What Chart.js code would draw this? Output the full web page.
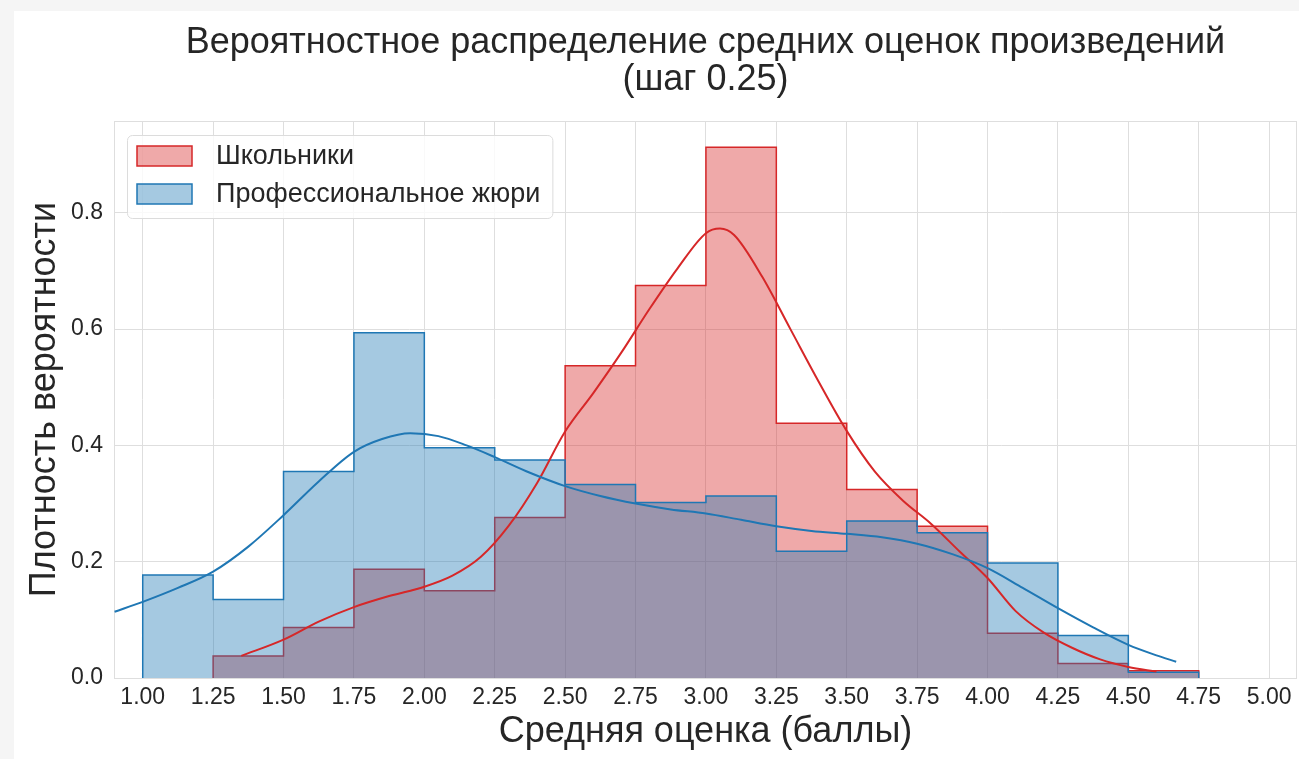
<!DOCTYPE html>
<html>
<head>
<meta charset="utf-8">
<script src="https://cdn.jsdelivr.net/npm/chart.js@4.4.0/dist/chart.umd.min.js"></script>
<style>
    html, body { margin: 0; padding: 0; }
    body { width: 1299px; height: 759px; overflow: hidden; background: #f5f5f5; position: relative; }
    #sheet { position: absolute; left: 14px; top: 11px; right: 0; bottom: 0; background: #ffffff; }
    #myChart { position: absolute; left: 0; top: 0; }
</style>
</head>
<body>
<div id="sheet"></div>
<canvas id="myChart" width="1299" height="759"></canvas>
<script>
// histogram bins (left edges), bin width 0.25
var binStarts = [1.00, 1.25, 1.50, 1.75, 2.00, 2.25, 2.50, 2.75, 3.00, 3.25, 3.50, 3.75, 4.00, 4.25, 4.50];
var binWidth = 0.25;
var schoolDensity = [null, 0.038, 0.087, 0.187, 0.150, 0.276, 0.537, 0.675, 0.913, 0.438, 0.324, 0.261, 0.077, 0.025, 0.0125];
var juryDensity = [0.177, 0.135, 0.355, 0.594, 0.396, 0.375, 0.333, 0.302, 0.313, 0.218, 0.270, 0.250, 0.198, 0.073, 0.010];

// kde curves
var schoolKdeX = [1.35, 1.50, 1.625, 1.75, 1.875, 2.00, 2.10, 2.20, 2.30, 2.40, 2.50, 2.60, 2.70, 2.80, 2.90, 3.00, 3.05, 3.10, 3.20, 3.30, 3.40, 3.50, 3.60, 3.70, 3.80, 3.90, 4.00, 4.10, 4.20, 4.30, 4.40, 4.50, 4.60];
var schoolKdeY = [0.038, 0.066, 0.097, 0.122, 0.141, 0.157, 0.176, 0.208, 0.262, 0.335, 0.424, 0.490, 0.560, 0.635, 0.705, 0.765, 0.773, 0.762, 0.690, 0.600, 0.510, 0.425, 0.355, 0.305, 0.265, 0.218, 0.172, 0.115, 0.078, 0.052, 0.032, 0.019, 0.011];
var juryKdeX = [0.90, 1.00, 1.125, 1.25, 1.375, 1.50, 1.625, 1.75, 1.85, 1.95, 2.05, 2.15, 2.25, 2.375, 2.50, 2.625, 2.75, 2.875, 3.00, 3.125, 3.25, 3.375, 3.50, 3.625, 3.75, 3.875, 4.00, 4.125, 4.25, 4.375, 4.50, 4.60, 4.67];
var juryKdeY = [0.114, 0.131, 0.155, 0.183, 0.226, 0.280, 0.338, 0.389, 0.411, 0.421, 0.416, 0.400, 0.380, 0.353, 0.330, 0.313, 0.300, 0.290, 0.283, 0.272, 0.261, 0.253, 0.248, 0.242, 0.231, 0.213, 0.189, 0.155, 0.120, 0.087, 0.057, 0.039, 0.028];

var xTicks = [1.00, 1.25, 1.50, 1.75, 2.00, 2.25, 2.50, 2.75, 3.00, 3.25, 3.50, 3.75, 4.00, 4.25, 4.50, 4.75, 5.00];
var yTicks = [0.0, 0.2, 0.4, 0.6, 0.8];

var seriesNames = ['Школьники', 'Профессиональное жюри'];
var titleLines = ['Вероятностное распределение средних оценок произведений', '(шаг 0.25)'];

var redLine = '#d62728', redFill = 'rgba(214, 39, 40, 0.4)';
var blueLine = '#1f77b4', blueFill = 'rgba(31, 119, 180, 0.4)';
var fontFamily = '"Liberation Sans", Arial, sans-serif';
var textColor = '#262626';
var gridColor = '#dedede';

function stepPoints(starts, vals, w) {
    var pts = [];
    var lastEnd = null, lastVal = null;
    for (var i = 0; i < starts.length; i++) {
        if (vals[i] == null) continue;
        if (pts.length == 0) pts.push({ x: starts[i], y: 0 });
        pts.push({ x: starts[i], y: vals[i] });
        lastEnd = starts[i] + w;
        lastVal = vals[i];
    }
    pts.push({ x: lastEnd, y: lastVal });
    pts.push({ x: lastEnd, y: 0 });
    return pts;
}

function curvePoints(xs, ys) {
    var pts = [];
    for (var i = 0; i < xs.length; i++) pts.push({ x: xs[i], y: ys[i] });
    return pts;
}

var framePlugin = {
    id: 'frame',
    beforeDatasetsDraw: function (chart) {
        var a = chart.chartArea, ctx = chart.ctx;
        ctx.save();
        ctx.strokeStyle = gridColor;
        ctx.lineWidth = 1;
        ctx.strokeRect(a.left + 0.5, a.top + 0.5, a.right - a.left - 1, a.bottom - a.top);
        ctx.restore();
    }
};

var titlePlugin = {
    id: 'twoLineTitle',
    afterDraw: function (chart) {
        var a = chart.chartArea, ctx = chart.ctx;
        var cx = (a.left + a.right) / 2;
        ctx.save();
        ctx.fillStyle = textColor;
        ctx.font = '36px ' + fontFamily;
        ctx.textAlign = 'center';
        ctx.textBaseline = 'middle';
        ctx.fillText(titleLines[0], cx, 43);
        ctx.fillText(titleLines[1], cx, 80);
        ctx.restore();
    }
};

var legendPlugin = {
    id: 'boxLegend',
    afterDraw: function (chart) {
        var ctx = chart.ctx;
        var left = 127, top = 135, rowH = 38;
        var handleX = 137, handleW = 55, handleH = 20, textX = 216;
        ctx.save();
        ctx.font = '27px ' + fontFamily;
        var maxW = 0;
        for (var i = 0; i < seriesNames.length; i++) {
            maxW = Math.max(maxW, ctx.measureText(seriesNames[i]).width);
        }
        var w = textX + maxW + 12 - left, h = 83;
        ctx.beginPath();
        ctx.roundRect(left + 0.5, top + 0.5, w, h, 5);
        ctx.fillStyle = 'rgba(255,255,255,0.8)';
        ctx.fill();
        ctx.strokeStyle = '#dcdcdc';
        ctx.lineWidth = 1;
        ctx.stroke();
        var fills = [redFill, blueFill], lines = [redLine, blueLine];
        for (var i = 0; i < seriesNames.length; i++) {
            var cy = top + 21 + i * rowH;
            ctx.fillStyle = fills[i];
            ctx.fillRect(handleX, cy - handleH / 2, handleW, handleH);
            ctx.strokeStyle = lines[i];
            ctx.lineWidth = 1.5;
            ctx.strokeRect(handleX, cy - handleH / 2, handleW, handleH);
            ctx.fillStyle = textColor;
            ctx.textAlign = 'left';
            ctx.textBaseline = 'middle';
            ctx.fillText(seriesNames[i], textX, cy + 1);
        }
        ctx.restore();
    }
};

Chart.defaults.font.family = fontFamily;
Chart.defaults.color = textColor;

var ctx = document.getElementById('myChart').getContext('2d');
var myChart = new Chart(ctx, {
    type: 'line',
    data: {
        datasets: [{
            label: seriesNames[0],
            data: stepPoints(binStarts, schoolDensity, binWidth),
            stepped: 'before',
            borderColor: redLine,
            backgroundColor: redFill,
            borderWidth: 1.5,
            fill: 'origin',
            pointRadius: 0,
            order: 4
        }, {
            label: seriesNames[1],
            data: stepPoints(binStarts, juryDensity, binWidth),
            stepped: 'before',
            borderColor: blueLine,
            backgroundColor: blueFill,
            borderWidth: 1.5,
            fill: 'origin',
            pointRadius: 0,
            order: 3
        }, {
            label: seriesNames[0] + ' kde',
            data: curvePoints(schoolKdeX, schoolKdeY),
            borderColor: redLine,
            borderWidth: 2,
            fill: false,
            pointRadius: 0,
            cubicInterpolationMode: 'monotone',
            order: 2
        }, {
            label: seriesNames[1] + ' kde',
            data: curvePoints(juryKdeX, juryKdeY),
            borderColor: blueLine,
            borderWidth: 2,
            fill: false,
            pointRadius: 0,
            cubicInterpolationMode: 'monotone',
            order: 1
        }]
    },
    options: {
        responsive: false,
        animation: false,
        events: [],
        layout: { padding: { top: 121, right: 2, left: 0, bottom: 0 } },
        plugins: {
            legend: { display: false },
            title: { display: false },
            tooltip: { enabled: false }
        },
        scales: {
            x: {
                type: 'linear',
                min: 0.898,
                max: 5.099,
                afterBuildTicks: function (scale) {
                    scale.ticks = xTicks.map(function (v) { return { value: v }; });
                },
                afterFit: function (scale) { scale.height = 81; },
                ticks: {
                    callback: function (v) { return v.toFixed(2); },
                    font: { size: 23 },
                    color: textColor,
                    padding: 6,
                    maxRotation: 0,
                    autoSkip: false
                },
                grid: { color: gridColor, drawTicks: false },
                border: { display: false },
                title: {
                    display: true,
                    text: 'Средняя оценка (баллы)',
                    font: { size: 36 },
                    color: textColor,
                    padding: { top: 0, bottom: 5 }
                }
            },
            y: {
                type: 'linear',
                min: 0,
                max: 0.958,
                afterBuildTicks: function (scale) {
                    scale.ticks = yTicks.map(function (v) { return { value: v }; });
                },
                afterFit: function (scale) { scale.width = 114; },
                ticks: {
                    callback: function (v) { return v.toFixed(1); },
                    font: { size: 23 },
                    color: textColor,
                    padding: 11
                },
                grid: { color: gridColor, drawTicks: false },
                border: { display: false },
                title: {
                    display: true,
                    text: 'Плотность вероятности',
                    font: { size: 36 },
                    color: textColor,
                    padding: { top: 23, bottom: 0 }
                }
            }
        }
    },
    plugins: [framePlugin, titlePlugin, legendPlugin]
});
</script>
</body>
</html>
